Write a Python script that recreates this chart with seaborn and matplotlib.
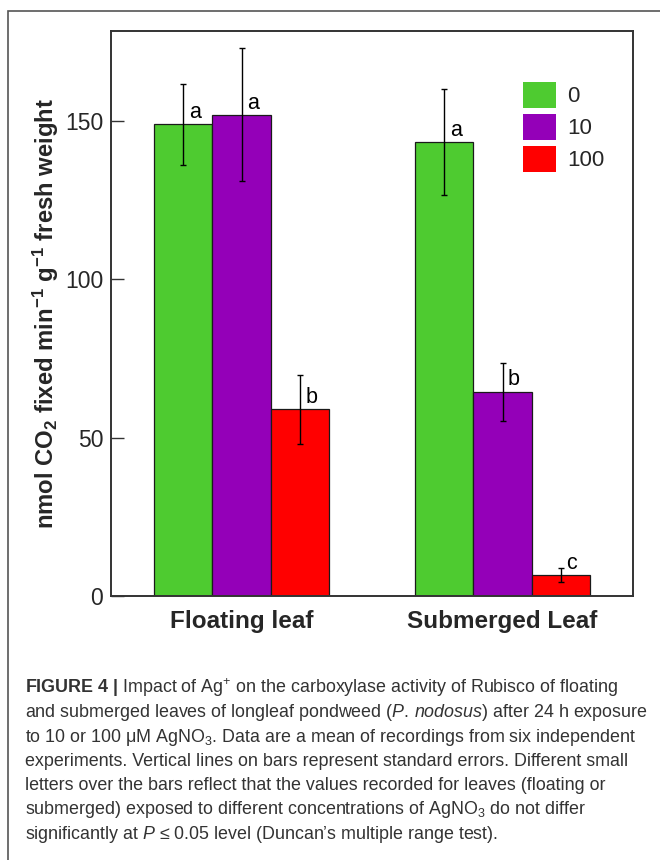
import matplotlib
matplotlib.use("Agg")
import matplotlib.pyplot as plt
from matplotlib.patches import Patch, Rectangle
import seaborn as sns
import pandas as pd

# ---- data ----
leaves = ["Floating leaf", "Submerged Leaf"]
concentrations = ["0", "10", "100"]
floating_means = [148.9, 151.9, 58.9]
submerged_means = [143.4, 64.5, 6.6]
floating_se = [12.9, 21.0, 10.8]
submerged_se = [16.7, 9.2, 2.3]
floating_letters = ["a", "a", "b"]
submerged_letters = ["a", "b", "c"]
colors = ["#4ECB30", "#9400B8", "#FF0000"]
y_ticks = [0, 50, 100, 150]

caption_lines = [
    r"$\mathbf{FIGURE\ 4\ |}$ Impact of Ag$^{+}$ on the carboxylase activity of Rubisco of floating",
    r"and submerged leaves of longleaf pondweed ($\mathit{P.\,nodosus}$) after 24 h exposure",
    r"to 10 or 100 μM AgNO$_{3}$. Data are a mean of recordings from six independent",
    r"experiments. Vertical lines on bars represent standard errors. Different small",
    r"letters over the bars reflect that the values recorded for leaves (floating or",
    r"submerged) exposed to different concentrations of AgNO$_{3}$ do not differ",
    r"significantly at $\mathit{P}$ ≤ 0.05 level (Duncan’s multiple range test).",
]

sns.set_theme(style="white")
plt.rcParams["font.family"] = ["Liberation Sans", "DejaVu Sans"]
plt.rcParams["mathtext.fontset"] = "custom"
plt.rcParams["mathtext.rm"] = "Liberation Sans"
plt.rcParams["mathtext.it"] = "Liberation Sans:italic"
plt.rcParams["mathtext.bf"] = "Liberation Sans:bold"

df = pd.DataFrame({
    "leaf": [leaves[0]] * 3 + [leaves[1]] * 3,
    "conc": concentrations * 2,
    "value": floating_means + submerged_means,
    "se": floating_se + submerged_se,
    "letter": floating_letters + submerged_letters,
})

W, H = 660, 860
fig = plt.figure(figsize=(W / 100, H / 100), dpi=100)
ax = fig.add_axes([111 / W, (H - 596) / H, (633 - 111) / W, (596 - 31) / H])

sns.barplot(data=df, x="leaf", y="value", hue="conc", order=leaves,
            hue_order=concentrations, palette=colors, width=0.667,
            edgecolor="#1a1a1a", linewidth=0.9, errorbar=None,
            legend=False, saturation=1, ax=ax)

bar_containers = list(ax.containers)
# error bars and letters from bar geometry
for ci, cont in enumerate(bar_containers):
    conc = concentrations[ci]
    for bar, leaf in zip(cont.patches, leaves):
        row = df[(df.leaf == leaf) & (df.conc == conc)].iloc[0]
        xc = bar.get_x() + bar.get_width() / 2
        h = bar.get_height()
        ax.errorbar(xc, h, yerr=row.se, fmt="none", ecolor="black",
                    elinewidth=1.0, capsize=2.3, capthick=1.0, zorder=5)
        ax.annotate(row.letter, (xc, h), xytext=(4, 4.5),
                    textcoords="offset points", ha="left", va="baseline",
                    fontsize=15.5, color="black")

ax.set_xlim(-0.5, 1.5)
ax.set_ylim(0, 178.4)
ax.set_yticks(y_ticks)
ax.tick_params(axis="y", direction="in", length=9, width=1.0,
               color="#333333", labelsize=16.5, pad=5.5, left=True)
ax.tick_params(axis="x", length=0, pad=10)
for lab in ax.get_xticklabels():
    lab.set_fontweight("bold")
    lab.set_fontsize(17.5)
ax.set_xlabel("")
ax.set_ylabel(r"$\mathbf{nmol\ CO_2\ fixed\ min^{-1}\ g^{-1}\ fresh\ weight}$",
              fontsize=17.2, labelpad=3)
for sp in ax.spines.values():
    sp.set_visible(True)
    sp.set_color("#333333")
    sp.set_linewidth(1.4)

handles = [Patch(facecolor=c, edgecolor="none") for c in colors]
fs = 16
ax.legend(handles, concentrations, loc="upper left",
          bbox_to_anchor=((523 - 111) / 522, (596 - 82) / 565),
          frameon=False, borderpad=0, borderaxespad=0, fontsize=fs,
          handlelength=33 / (fs * 1.389), handleheight=32 / (fs * 1.389),
          labelspacing=0.25, handletextpad=0.5)

# outer frame
fig.add_artist(Rectangle((8 / W, -0.05), 1.2, (H - 11) / H + 0.05,
                         transform=fig.transFigure, fill=False,
                         edgecolor="#555555", linewidth=1.2, clip_on=False))

# caption
for i, line in enumerate(caption_lines):
    y = 693 + i * 24.3
    fig.text(25 / W, 1 - y / H, line, ha="left", va="baseline",
             fontsize=12.85, color="#333333")

fig.savefig("out.png", dpi=100)
